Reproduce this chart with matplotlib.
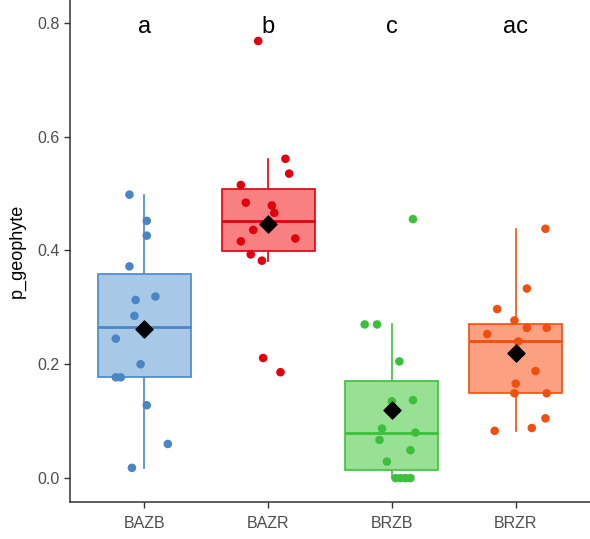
import numpy as np
import matplotlib
matplotlib.use("Agg")
import matplotlib.pyplot as plt

plt.rcParams["font.family"] = ["Liberation Sans", "DejaVu Sans"]

# groups and compact letter display
groups = ["BAZB", "BAZR", "BRZB", "BRZR"]
letters = ["a", "b", "c", "ac"]

# proportion of geophytes per plot
bazb = [0.498, 0.452, 0.426, 0.372, 0.313, 0.319, 0.285, 0.245, 0.200, 0.177, 0.177, 0.128, 0.060, 0.018]
bazr = [0.768, 0.561, 0.535, 0.515, 0.484, 0.479, 0.466, 0.436, 0.416, 0.421, 0.393, 0.382, 0.211, 0.186]
brzb = [0.455, 0.270, 0.270, 0.205, 0.135, 0.137, 0.087, 0.080, 0.067, 0.049, 0.029, 0.0, 0.0, 0.0, 0.0]
brzr = [0.438, 0.333, 0.297, 0.277, 0.264, 0.264, 0.253, 0.240, 0.188, 0.166, 0.149, 0.149, 0.105, 0.088, 0.083]

# horizontal jitter of each point
jit_bazb = [-0.12, 0.02, 0.02, -0.12, -0.07, 0.09, -0.08, -0.23, -0.03, -0.23, -0.19, 0.02, 0.19, -0.10]
jit_bazr = [-0.08, 0.14, 0.17, -0.22, -0.18, 0.03, 0.05, -0.12, -0.22, 0.22, -0.14, -0.05, -0.04, 0.10]
jit_brzb = [0.17, -0.22, -0.12, 0.06, 0.00, 0.17, -0.08, 0.19, -0.10, 0.15, -0.04, 0.03, 0.07, 0.11, 0.15]
jit_brzr = [0.24, 0.09, -0.15, -0.01, 0.09, 0.25, -0.23, 0.02, 0.16, 0.00, -0.01, 0.25, 0.24, 0.13, -0.17]

data = [bazb, bazr, brzb, brzr]
jitter = [jit_bazb, jit_bazr, jit_brzb, jit_brzr]
point_cols = ["#4A86C6", "#E0000E", "#3CC03C", "#F0500F"]
fill_cols = ["#A8C8E8", "#F88080", "#98E094", "#FBA080"]

fig = plt.figure(figsize=(5.9, 5.39), dpi=100)
ax = fig.add_axes([70 / 590, 1 - 502 / 539, 1 - 70 / 590, 502 / 539])

pos = np.arange(1, len(groups) + 1)
bp = ax.boxplot(data, positions=pos, widths=0.75, whis=1.5, showfliers=False,
                patch_artist=True, showcaps=False)
for i in range(len(groups)):
    bp["boxes"][i].set(facecolor=fill_cols[i], edgecolor=point_cols[i], linewidth=1.2, zorder=2)
    bp["medians"][i].set(color=point_cols[i], linewidth=2.0, zorder=3)
    for w in bp["whiskers"][2 * i:2 * i + 2]:
        w.set(color=point_cols[i], linewidth=1.2, zorder=1)

for i in range(len(groups)):
    x = pos[i] + np.array(jitter[i])
    ax.scatter(x, data[i], s=38, color=point_cols[i], edgecolors="none", zorder=4)
    ax.scatter(pos[i], np.mean(data[i]), marker="D", s=75, color="black", zorder=5)
    ax.text(pos[i], 0.792, letters[i], ha="center", va="center", fontsize=17, color="black")

ax.set_xlim(0.4, 4.6)
ax.set_ylim(-0.042, 0.840)
ax.set_xticks(pos)
ax.set_xticklabels(groups)
ax.set_yticks([0.0, 0.2, 0.4, 0.6, 0.8])
ax.set_yticklabels(["0.0", "0.2", "0.4", "0.6", "0.8"])
ax.set_ylabel("p_geophyte", fontsize=13, color="black", labelpad=8)

for side in ["top", "right"]:
    ax.spines[side].set_visible(False)
for side in ["left", "bottom"]:
    ax.spines[side].set_color("#333333")
    ax.spines[side].set_linewidth(1.1)
ax.tick_params(axis="both", colors="#333333", length=4, width=1, labelsize=11.5,
               labelcolor="#4D4D4D")
ax.tick_params(axis="x", pad=6)

fig.savefig("out.png", dpi=100)
